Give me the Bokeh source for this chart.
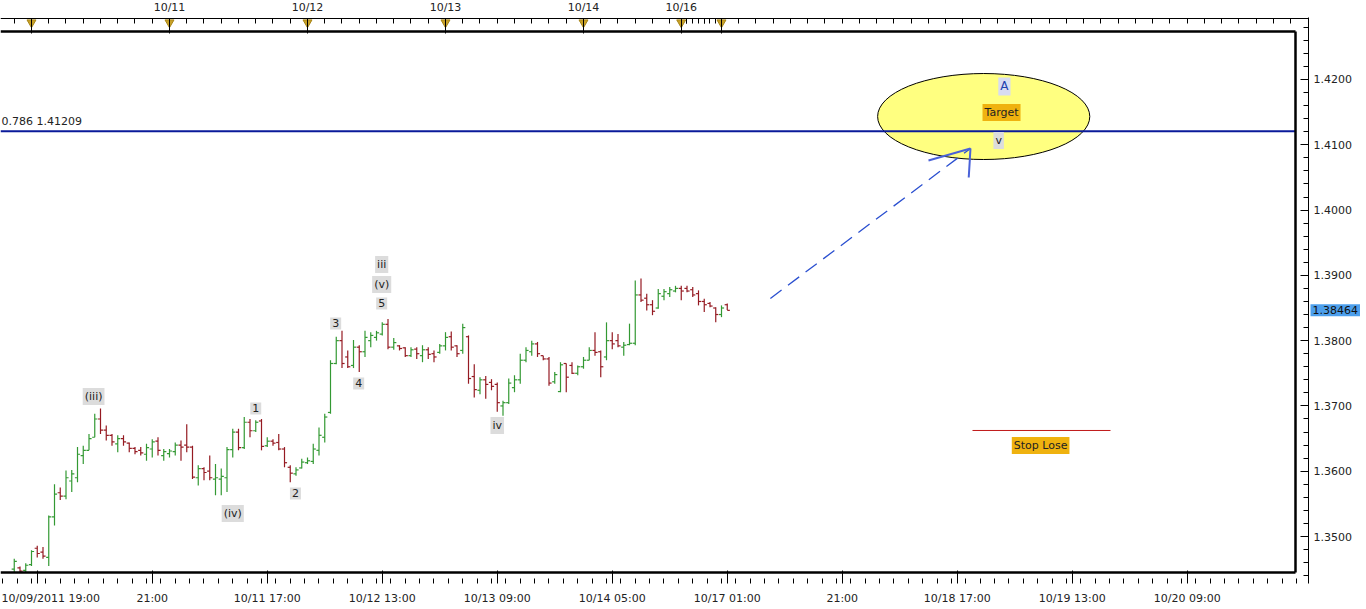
import numpy as np
from bokeh.plotting import figure
from bokeh.models import Range1d, LinearAxis, FixedTicker, Label, PrintfTickFormatter
from bokeh.embed import file_html
from bokeh.resources import INLINE

# ---------------- data (hourly bars, index 0 = 10/10 00:00) ----------------
first_bar = -3
opens = [1.3450, 1.3452, 1.3448, 1.3457, 1.3482, 1.3476, 1.3468, 1.3530, 1.3567, 1.3562,
         1.3585, 1.3590, 1.3624, 1.3632, 1.3652, 1.3680, 1.3663, 1.3655, 1.3642, 1.3650,
         1.3643, 1.3635, 1.3632, 1.3626, 1.3634, 1.3646, 1.3624, 1.3627, 1.3630, 1.3640,
         1.3640, 1.3637, 1.3590, 1.3604, 1.3600, 1.3588, 1.3588, 1.3590, 1.3633, 1.3660,
         1.3636, 1.3675, 1.3662, 1.3677, 1.3639, 1.3646, 1.3644, 1.3634, 1.3606, 1.3596,
         1.3605, 1.3613, 1.3615, 1.3632, 1.3652, 1.3690, 1.3765, 1.3800, 1.3775, 1.3762,
         1.3790, 1.3783, 1.3800, 1.3805, 1.3810, 1.3825, 1.3790, 1.3792, 1.3789, 1.3777,
         1.3787, 1.3777, 1.3786, 1.3780, 1.3782, 1.3792, 1.3806, 1.3792, 1.3785, 1.3806,
         1.3745, 1.3724, 1.3740, 1.3736, 1.3733, 1.3700, 1.3705, 1.3728, 1.3740, 1.3770,
         1.3783, 1.3795, 1.3777, 1.3772, 1.3737, 1.3722, 1.3765, 1.3762, 1.3750, 1.3760,
         1.3770, 1.3785, 1.3783, 1.3775, 1.3800, 1.3800, 1.3790, 1.3794, 1.3796, 1.3870,
         1.3865, 1.3855, 1.3850, 1.3868, 1.3872, 1.3876, 1.3880, 1.3880, 1.3878, 1.3872,
         1.3860, 1.3857, 1.3850, 1.3840, 1.3855]
highs = [1.3466, 1.3454, 1.3459, 1.3479, 1.3486, 1.3484, 1.3532, 1.3580, 1.3575, 1.3601,
         1.3602, 1.3637, 1.3639, 1.3657, 1.3688, 1.3696, 1.3670, 1.3657, 1.3655, 1.3655,
         1.3644, 1.3637, 1.3637, 1.3642, 1.3649, 1.3652, 1.3634, 1.3634, 1.3644, 1.3647,
         1.3672, 1.3639, 1.3609, 1.3606, 1.3624, 1.3611, 1.3604, 1.3637, 1.3665, 1.3665,
         1.3683, 1.3680, 1.3678, 1.3680, 1.3652, 1.3649, 1.3657, 1.3637, 1.3609, 1.3606,
         1.3619, 1.3621, 1.3642, 1.3667, 1.3688, 1.3770, 1.3806, 1.3815, 1.3785, 1.3801,
         1.3793, 1.3815, 1.3813, 1.3815, 1.3828, 1.3833, 1.3804, 1.3793, 1.3790, 1.3790,
         1.3790, 1.3793, 1.3790, 1.3785, 1.3795, 1.3813, 1.3814, 1.3793, 1.3826, 1.3808,
         1.3764, 1.3744, 1.3746, 1.3741, 1.3736, 1.3708, 1.3742, 1.3747, 1.3780, 1.3790,
         1.3800, 1.3798, 1.3777, 1.3775, 1.3752, 1.3767, 1.3765, 1.3767, 1.3762, 1.3775,
         1.3790, 1.3813, 1.3785, 1.3828, 1.3813, 1.3810, 1.3798, 1.3826, 1.3892, 1.3895,
         1.3872, 1.3862, 1.3879, 1.3879, 1.3882, 1.3884, 1.3884, 1.3884, 1.3882, 1.3877,
         1.3864, 1.3859, 1.3851, 1.3854, 1.3857]
lows = [1.3445, 1.3445, 1.3445, 1.3455, 1.3468, 1.3466, 1.3455, 1.3517, 1.3556, 1.3557,
        1.3568, 1.3583, 1.3611, 1.3632, 1.3652, 1.3657, 1.3647, 1.3639, 1.3629, 1.3639,
        1.3629, 1.3626, 1.3624, 1.3616, 1.3621, 1.3624, 1.3616, 1.3621, 1.3624, 1.3616,
        1.3629, 1.3588, 1.3578, 1.3586, 1.3586, 1.3563, 1.3563, 1.3568, 1.3621, 1.3632,
        1.3634, 1.3652, 1.3660, 1.3632, 1.3637, 1.3639, 1.3632, 1.3606, 1.3583, 1.3593,
        1.3604, 1.3611, 1.3611, 1.3624, 1.3644, 1.3688, 1.3764, 1.3758, 1.3758, 1.3758,
        1.3752, 1.3775, 1.3790, 1.3800, 1.3808, 1.3787, 1.3786, 1.3785, 1.3775, 1.3775,
        1.3772, 1.3767, 1.3772, 1.3767, 1.3780, 1.3785, 1.3785, 1.3775, 1.3780, 1.3734,
        1.3713, 1.3718, 1.3711, 1.3724, 1.3691, 1.3685, 1.3703, 1.3721, 1.3734, 1.3767,
        1.3777, 1.3775, 1.3770, 1.3731, 1.3734, 1.3721, 1.3721, 1.3749, 1.3747, 1.3757,
        1.3770, 1.3777, 1.3744, 1.3770, 1.3787, 1.3790, 1.3777, 1.3793, 1.3793, 1.3859,
        1.3846, 1.3839, 1.3849, 1.3862, 1.3867, 1.3874, 1.3862, 1.3874, 1.3867, 1.3854,
        1.3844, 1.3851, 1.3828, 1.3836, 1.3847]
closes = [1.3462, 1.3447, 1.3456, 1.3477, 1.3474, 1.3470, 1.3530, 1.3565, 1.3562, 1.3590,
          1.3596, 1.3626, 1.3632, 1.3650, 1.3680, 1.3663, 1.3655, 1.3645, 1.3650, 1.3645,
          1.3635, 1.3630, 1.3628, 1.3636, 1.3645, 1.3632, 1.3630, 1.3631, 1.3640, 1.3637,
          1.3637, 1.3591, 1.3604, 1.3598, 1.3590, 1.3590, 1.3592, 1.3633, 1.3660, 1.3636,
          1.3675, 1.3662, 1.3675, 1.3638, 1.3646, 1.3643, 1.3634, 1.3613, 1.3597, 1.3602,
          1.3614, 1.3616, 1.3634, 1.3655, 1.3683, 1.3765, 1.3800, 1.3765, 1.3760, 1.3790,
          1.3783, 1.3805, 1.3808, 1.3812, 1.3825, 1.3790, 1.3797, 1.3788, 1.3777, 1.3786,
          1.3780, 1.3786, 1.3779, 1.3775, 1.3792, 1.3805, 1.3790, 1.3780, 1.3820, 1.3742,
          1.3725, 1.3740, 1.3733, 1.3730, 1.3705, 1.3705, 1.3735, 1.3740, 1.3770, 1.3785,
          1.3795, 1.3780, 1.3772, 1.3735, 1.3748, 1.3763, 1.3744, 1.3750, 1.3760, 1.3770,
          1.3785, 1.3782, 1.3760, 1.3800, 1.3795, 1.3792, 1.3793, 1.3796, 1.3870, 1.3862,
          1.3855, 1.3845, 1.3872, 1.3875, 1.3878, 1.3880, 1.3876, 1.3876, 1.3870, 1.3860,
          1.3855, 1.3853, 1.3840, 1.3850, 1.38464]

# bottom axis (bar index -> time label)
bottom_ticks = [1, 21, 41, 61, 81, 101, 121, 141, 161, 181, 201]
bottom_labels = ["10/09/2011 19:00", "21:00", "10/11 17:00", "10/12 13:00", "10/13 09:00",
                 "10/14 05:00", "10/17 01:00", "21:00", "10/18 17:00", "10/19 13:00",
                 "10/20 09:00"]
# top axis (day separators)
day_ticks = [0, 24, 48, 72, 96, 113, 120]
day_labels = ["", "10/11", "10/12", "10/13", "10/14", "10/16", ""]
# price axis
price_ticks = [1.35, 1.36, 1.37, 1.38, 1.39, 1.40, 1.41, 1.42]

# Elliott wave labels
wave_text = ["(iii)", "(iv)", "1", "2", "3", "4", "5", "(v)", "iii", "iv", "v"]
wave_x = [10.8, 35.0, 39.0, 45.9, 52.9, 56.9, 60.9, 60.9, 60.9, 81.0, 168.2]
wave_y = [1.37144, 1.35352, 1.36961, 1.35659, 1.38263, 1.37344, 1.38569, 1.38860,
          1.39166, 1.36700, 1.41066]

fib_ratio = 0.786
fib_level = 1.41209
stop_level = 1.36624
stop_x = [163.65, 187.65]
target_x, target_y = 168.7, 1.41495
wave_a_x, wave_a_y = 169.2, 1.41893
stop_label_x, stop_label_y = 175.5, 1.36394
zone_x, zone_y, zone_w, zone_h = 165.6, 1.41433, 36.9, 0.01317
arrow_x = [128.5, 163.3]
arrow_y = [1.38646, 1.40943]
arm_x = [156.0, 163.0]
arm_y = [1.40759, 1.40499]

# ---------------- layout constants (frame = whole canvas) ----------------
X_START, X_END = -5.3913, 232.174      # canvas x 0 .. 1366
Y_BOT, Y_TOP = 1.338819, 1.432100      # canvas y 609 .. 0
AX_RIGHT_X = 222.087                   # price axis line
AX_BOTTOM_Y = 1.342801                 # time axis
AX_TOP_Y = 1.429344                    # day axis
RIGHT_X = 219.826                      # inner thick border (right)
TOP_LINE, BOT_LINE = 1.427352, 1.344486
TRI_Y = 1.428731

FONT = "DejaVu Sans"
GREEN, RED = "#339933", "#951a22"
TXT = "#222222"

x = np.arange(first_bar, first_bar + len(closes))
o, h, l, c = map(np.array, (opens, highs, lows, closes))
colors = np.where(c >= o, GREEN, RED)

p = figure(width=1366, height=609, x_range=Range1d(X_START, X_END),
           y_range=Range1d(Y_BOT, Y_TOP), output_backend="svg", toolbar_location=None,
           x_axis_location=None, y_axis_location=None,
           min_border=0, min_border_left=0, min_border_right=0,
           min_border_top=0, min_border_bottom=0)
p.outline_line_color = None
p.background_fill_color = "white"
p.border_fill_color = "white"
p.xgrid.visible = False
p.ygrid.visible = False

# target zone
p.ellipse(x=[zone_x], y=[zone_y], width=[zone_w], height=[zone_h],
          fill_color="#ffff80", line_color="black", line_width=1)

# OHLC bars
tk = 0.45
p.segment(x0=x, y0=l, x1=x, y1=h, line_color=colors, line_width=1.2)
p.segment(x0=x - tk, y0=o, x1=x, y1=o, line_color=colors, line_width=1.2)
p.segment(x0=x, y0=c, x1=x + tk, y1=c, line_color=colors, line_width=1.2)

# fib level line
p.segment(x0=[X_START], y0=[fib_level], x1=[RIGHT_X], y1=[fib_level],
          line_color="#0a1a9a", line_width=2)
# stop line
p.segment(x0=[stop_x[0]], y0=[stop_level], x1=[stop_x[1]], y1=[stop_level],
          line_color="#c01818", line_width=1)
# dashed projection arrow
p.line(arrow_x, arrow_y, line_color="#2a4fd0", line_width=1.3, line_dash="14 8")
for ax_, ay_ in zip(arm_x, arm_y):
    p.line([arrow_x[1], ax_], [arrow_y[1], ay_], line_color="#4a62d8", line_width=2)

# inner thick frame
p.segment(x0=[X_START, X_START, RIGHT_X], y0=[TOP_LINE, BOT_LINE, TOP_LINE],
          x1=[RIGHT_X, RIGHT_X, RIGHT_X], y1=[TOP_LINE, BOT_LINE, BOT_LINE],
          line_color="black", line_width=2.5)

# day markers
p.scatter(x=day_ticks, y=[TRI_Y] * len(day_ticks), marker="inverted_triangle", size=9,
          fill_color="#c9a227", line_color="#a8861a")


def style_axis(ax, tick_in, minor_in, standoff):
    ax.major_tick_in, ax.major_tick_out = tick_in, 0
    ax.minor_tick_in, ax.minor_tick_out = minor_in, 0
    ax.major_label_standoff = standoff
    ax.major_label_text_font = FONT
    ax.major_label_text_font_size = "11px"
    ax.major_label_text_color = TXT
    ax.major_tick_line_color = "black"
    ax.minor_tick_line_color = "black"


# ---------------- axes ----------------
xb = LinearAxis(ticker=FixedTicker(ticks=bottom_ticks,
                                   minor_ticks=list(np.arange(-5, 222, 2.5))),
                fixed_location=AX_BOTTOM_Y, bounds=(X_START, AX_RIGHT_X))
xb.major_label_overrides = {t: (lab if i > 0 else "") for i, (t, lab) in
                            enumerate(zip(bottom_ticks, bottom_labels))}
xb.axis_line_color = None
style_axis(xb, 13, 5, 8)
p.add_layout(xb, "below")

xt = LinearAxis(ticker=FixedTicker(ticks=day_ticks,
                                   minor_ticks=list(range(-3, 222, 3)) + list(range(114, 120))),
                fixed_location=AX_TOP_Y, bounds=(X_START, AX_RIGHT_X))
xt.major_label_overrides = dict(zip(day_ticks, day_labels))
xt.axis_line_color = "black"
style_axis(xt, 15, 5, 4)
p.add_layout(xt, "above")

yr = LinearAxis(ticker=FixedTicker(ticks=price_ticks,
                                   minor_ticks=list(np.arange(1.344, 1.429, 0.002))),
                formatter=PrintfTickFormatter(format="%.4f"),
                fixed_location=AX_RIGHT_X, bounds=(AX_BOTTOM_Y, 1.429497))
yr.axis_line_color = "black"
style_axis(yr, 8, 5, 5)
p.add_layout(yr, "right")

# ---------------- labels ----------------
def add_label(txt, lx, ly, bg, color=TXT, size="11px"):
    p.add_layout(Label(x=lx, y=ly, text=txt, text_align="center", text_baseline="middle",
                       text_font=FONT, text_font_size=size, text_color=color,
                       background_fill_color=bg, padding=2))

for t, wx, wy in zip(wave_text, wave_x, wave_y):
    add_label(t, wx, wy, "#dcdcdc")
add_label("A", wave_a_x, wave_a_y, "#d8dcf2", color="#2040b0", size="12px")
add_label("Target", target_x, target_y, "#efb20f")
add_label("Stop Lose", stop_label_x, stop_label_y, "#efb20f")

p.add_layout(Label(x=X_START, y=fib_level, x_offset=1, y_offset=3,
                   text=f"{fib_ratio} {fib_level:.5f}",
                   text_align="left", text_baseline="bottom", text_font=FONT,
                   text_font_size="11px", text_color=TXT))
# last price tag on the price axis
p.add_layout(Label(x=AX_RIGHT_X, y=closes[-1], x_offset=2, text=f"{closes[-1]:.5f}",
                   text_align="left", text_baseline="middle", text_font=FONT,
                   text_font_size="11px", text_color="#111111",
                   background_fill_color="#4d9fec", padding=2))
# first bottom time label (left aligned at chart edge)
p.add_layout(Label(x=X_START, y=AX_BOTTOM_Y, x_offset=1, y_offset=-8, text=bottom_labels[0],
                   text_align="left", text_baseline="top", text_font=FONT,
                   text_font_size="11px", text_color=TXT))

open("out.html", "w").write(file_html(p, INLINE))
